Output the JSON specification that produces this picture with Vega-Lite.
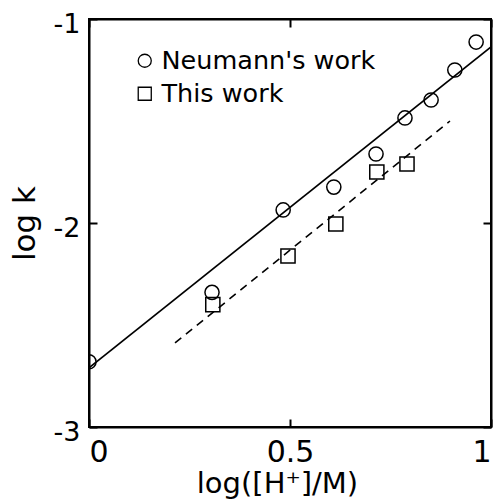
{
  "$schema": "https://vega.github.io/schema/vega-lite/v6.json",
  "width": 402,
  "height": 408,
  "autosize": {"type": "none"},
  "padding": {"left": 89, "top": 19, "right": 2, "bottom": 72},
  "background": "white",
  "config": {
    "view": {"stroke": "black", "strokeWidth": 2},
    "font": "DejaVu Sans",
    "axis": {
      "grid": false,
      "domainColor": "black",
      "domainWidth": 2,
      "tickColor": "black",
      "tickWidth": 2,
      "labelColor": "black",
      "titleColor": "black",
      "labelFont": "DejaVu Sans",
      "titleFont": "DejaVu Sans",
      "titleFontWeight": "normal"
    }
  },
  "resolve": {"axis": {"x": "independent", "y": "independent"}},
  "datasets": {
    "points": [
      {"series": "Neumann's work", "x": 0.0, "y": -2.68},
      {"series": "Neumann's work", "x": 0.306, "y": -2.34},
      {"series": "Neumann's work", "x": 0.483, "y": -1.936},
      {"series": "Neumann's work", "x": 0.609, "y": -1.824},
      {"series": "Neumann's work", "x": 0.714, "y": -1.662},
      {"series": "Neumann's work", "x": 0.786, "y": -1.485},
      {"series": "Neumann's work", "x": 0.851, "y": -1.397},
      {"series": "Neumann's work", "x": 0.910, "y": -1.25},
      {"series": "Neumann's work", "x": 0.963, "y": -1.113},
      {"series": "This work", "x": 0.308, "y": -2.40},
      {"series": "This work", "x": 0.495, "y": -2.162},
      {"series": "This work", "x": 0.614, "y": -2.005},
      {"series": "This work", "x": 0.716, "y": -1.75},
      {"series": "This work", "x": 0.791, "y": -1.711}
    ],
    "solid": [
      {"x": 0.0, "y": -2.71},
      {"x": 1.0, "y": -1.137}
    ],
    "dashed": [
      {"x": 0.214, "y": -2.588},
      {"x": 0.898, "y": -1.5}
    ]
  },
  "layer": [
    {
      "data": {"name": "solid"},
      "mark": {"type": "line", "color": "black", "strokeWidth": 1.6, "clip": true},
      "encoding": {
        "x": {
          "field": "x", "type": "quantitative",
          "scale": {"domain": [0, 1], "nice": false, "zero": false},
          "axis": {
            "orient": "bottom", "values": [0, 0.5, 1], "format": "~g",
            "tickSize": -8, "labelPadding": 18, "labelFontSize": 30,
            "title": "log([H⁺]/M)", "titleFontSize": 29, "titlePadding": 2,
            "titleX": 188
          }
        },
        "y": {
          "field": "y", "type": "quantitative",
          "scale": {"domain": [-3, -1], "nice": false, "zero": false},
          "axis": {
            "orient": "left", "values": [-3, -2, -1],
            "labelExpr": "'-' + abs(datum.value)",
            "tickSize": -8, "labelPadding": 17, "labelFontSize": 27, "labelOffset": 5,
            "title": "log k", "titleFontSize": 31, "titlePadding": 12
          }
        }
      }
    },
    {
      "data": {"name": "dashed"},
      "mark": {"type": "line", "color": "black", "strokeWidth": 1.6, "strokeDash": [8, 6], "clip": true},
      "encoding": {
        "x": {
          "field": "x", "type": "quantitative",
          "scale": {"domain": [0, 1], "nice": false, "zero": false},
          "axis": {"orient": "top", "values": [0, 0.5, 1], "labels": false, "tickSize": -8, "title": null}
        },
        "y": {
          "field": "y", "type": "quantitative",
          "scale": {"domain": [-3, -1], "nice": false, "zero": false},
          "axis": {"orient": "right", "values": [-3, -2, -1], "labels": false, "tickSize": -8, "title": null}
        }
      }
    },
    {
      "data": {"name": "points"},
      "mark": {"type": "point", "filled": false, "stroke": "black", "strokeWidth": 1.5, "opacity": 1, "size": 200, "clip": true},
      "encoding": {
        "x": {"field": "x", "type": "quantitative", "axis": null},
        "y": {"field": "y", "type": "quantitative", "axis": null},
        "shape": {
          "field": "series", "type": "nominal",
          "scale": {"domain": ["Neumann's work", "This work"], "range": ["circle", "square"]},
          "legend": {
            "orient": "none", "legendX": 43, "legendY": 29, "title": null,
            "labelFontSize": 25.5, "labelColor": "black", "labelFont": "DejaVu Sans", "labelLimit": 400,
            "symbolSize": 170, "symbolStrokeColor": "black", "symbolStrokeWidth": 1.3,
            "symbolFillColor": "transparent", "labelOffset": 4, "rowPadding": 6
          }
        }
      }
    }
  ]
}
